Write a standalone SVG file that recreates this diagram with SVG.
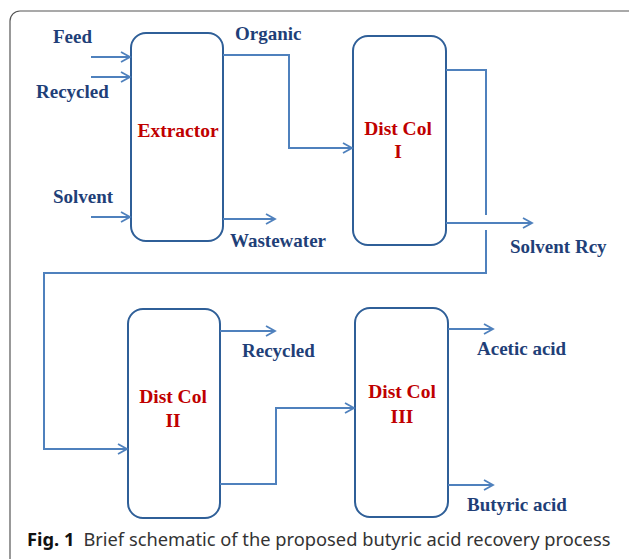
<svg xmlns="http://www.w3.org/2000/svg" width="629" height="559" viewBox="0 0 629 559">
<defs>
<marker id="arr" markerWidth="12" markerHeight="12" refX="10" refY="6" orient="auto" markerUnits="userSpaceOnUse">
<path d="M1,1 L10,6 L1,11" fill="none" stroke="#4F81BD" stroke-width="1.8"/>
</marker>
<style>
.box{fill:#fff;stroke:#2F5F98;stroke-width:2}
.ln{fill:none;stroke:#4F81BD;stroke-width:2}
.lbl{font-family:"Liberation Serif",serif;font-weight:bold;font-size:19px;fill:#1F3F78}
.nm{font-family:"Liberation Serif",serif;font-weight:bold;font-size:19.5px;fill:#C00000;text-anchor:middle}
.cap{font-family:"Noto Sans","Open Sans",sans-serif;font-size:18.3px;fill:#333}
</style>
</defs>
<rect width="629" height="559" fill="#fff"/>
<rect x="10" y="11" width="630" height="560" rx="10" fill="none" stroke="#555" stroke-width="1.2"/>
<g id="extractor"><rect class="box" x="131" y="33" width="92" height="208" rx="15"/><text class="nm" x="178" y="137">Extractor</text></g>
<g id="distcol1"><rect class="box" x="353" y="36" width="93" height="209" rx="15"/><text class="nm" x="398" y="135">Dist Col</text><text class="nm" x="398" y="158">I</text></g>
<g id="distcol2"><rect class="box" x="128" y="309" width="92" height="209" rx="15"/><text class="nm" x="173" y="403">Dist Col</text><text class="nm" x="173" y="427">II</text></g>
<g id="distcol3"><rect class="box" x="355" y="308" width="93" height="209" rx="15"/><text class="nm" x="402" y="398">Dist Col</text><text class="nm" x="402" y="423">III</text></g>
<g id="connectors">
<path class="ln" d="M91,57 H130" marker-end="url(#arr)"/>
<path class="ln" d="M91,77 H130" marker-end="url(#arr)"/>
<path class="ln" d="M91,217 H130" marker-end="url(#arr)"/>
<path class="ln" d="M223,55 H289 V148 H352" marker-end="url(#arr)"/>
<path class="ln" d="M223,219 H275" marker-end="url(#arr)"/>
<path class="ln" d="M446,70 H486 V215"/>
<path class="ln" d="M486,230 V273 H44 V449 H127" marker-end="url(#arr)"/>
<path class="ln" d="M446,223 H532" marker-end="url(#arr)"/>
<path class="ln" d="M220,331 H275" marker-end="url(#arr)"/>
<path class="ln" d="M220,484 H276 V408 H354" marker-end="url(#arr)"/>
<path class="ln" d="M448,329 H493" marker-end="url(#arr)"/>
<path class="ln" d="M448,485 H493" marker-end="url(#arr)"/>
</g>
<g id="labels">
<text class="lbl" x="53" y="43">Feed</text>
<text class="lbl" x="36" y="98">Recycled</text>
<text class="lbl" x="235" y="40">Organic</text>
<text class="lbl" x="53" y="203">Solvent</text>
<text class="lbl" x="230" y="247">Wastewater</text>
<text class="lbl" x="510" y="253">Solvent Rcy</text>
<text class="lbl" x="242" y="357">Recycled</text>
<text class="lbl" x="477" y="355">Acetic acid</text>
<text class="lbl" x="467" y="511">Butyric acid</text>
</g>
<text class="cap" x="27" y="546"><tspan font-weight="bold" fill="#111">Fig. 1</tspan><tspan dx="9">Brief schematic of the proposed butyric acid recovery process</tspan></text>
</svg>
